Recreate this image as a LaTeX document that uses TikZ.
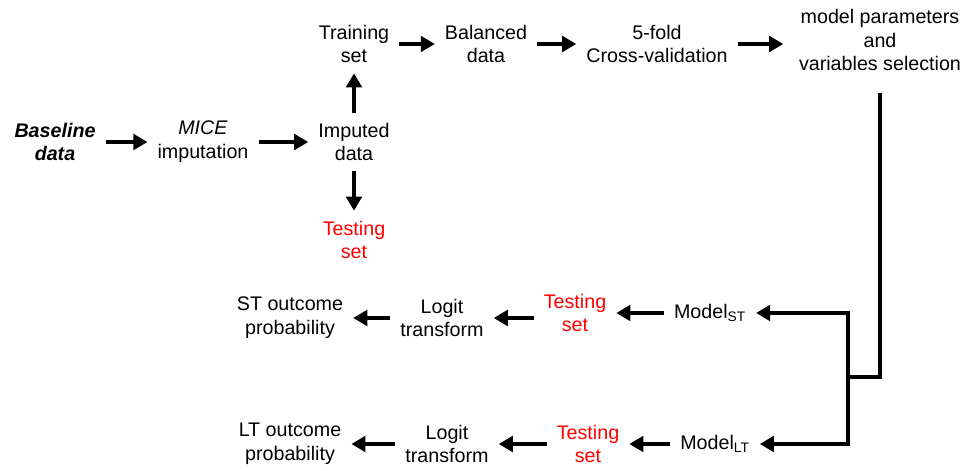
\documentclass[tikz,border=0pt]{standalone}
\usepackage{fontspec}
\setmainfont{Liberation Sans}
\usetikzlibrary{arrows.meta}

\begin{document}
\begin{tikzpicture}[x=0.025cm, y=-0.025cm,
  every node/.style={align=center, inner sep=7pt, font=\fontsize{14}{17}\selectfont},
  lead/.style={font=\fontsize{14}{17}\selectfont\bfseries\itshape},
  flow/.style={-{Triangle[length=10pt, width=11pt]}, line width=3.5pt},
  link/.style={line width=3pt}]
  \useasboundingbox (0,0) rectangle (976,471);

  % top row
  \node[lead] (base) at (55, 142) {Baseline\\data};
  \node (mice) at (203, 142) {\textit{MICE}\\imputation};
  \node (imp) at (354, 142) {Imputed\\data};
  \node (train) at (354, 44) {Training\\set};
  \node[red] (test) at (354, 240) {Testing\\set};
  \node (bal) at (486, 44) {Balanced\\data};
  \node (cv) at (657, 44) {5-fold\\Cross-validation};
  \node (sel) at (880, 40) {model parameters\\and\\variables selection};

  % short term
  \node (mst) at (710, 313) {Model\textsubscript{ST}};
  \node[red] (tst) at (575, 313) {Testing\\set};
  \node (lst) at (442, 318) {Logit\\transform};
  \node (pst) at (290, 318) {ST outcome\\probability};

  % long term
  \node (mlt) at (715, 444) {Model\textsubscript{LT}};
  \node[red] (tlt) at (588, 444) {Testing\\set};
  \node (llt) at (447, 444) {Logit\\transform};
  \node (plt) at (290, 444) {LT outcome\\probability};

  \coordinate (fork) at (848, 377); % split to both models

  \draw[flow] (base) -- (mice);
  \draw[flow] (mice) -- (imp);
  \draw[flow] (imp) -- (train);
  \draw[flow] (imp) -- (test);
  \draw[flow] (train) -- (bal);
  \draw[flow] (bal) -- (cv);
  \draw[flow, shorten >=4pt] (cv) -- (cv -| sel.west);
  \draw[link] ([yshift=-8pt]sel.south) |- (fork);
  \draw[flow] (fork) |- (mst);
  \draw[flow] (fork) |- (mlt);

  \draw[flow] (mst) -- (tst);
  \draw[flow] (tst.west |- lst) -- (lst);
  \draw[flow] (lst) -- (pst);

  \draw[flow] (mlt) -- (tlt);
  \draw[flow] (tlt) -- (llt);
  \draw[flow] (llt) -- (plt);
\end{tikzpicture}
\end{document}
